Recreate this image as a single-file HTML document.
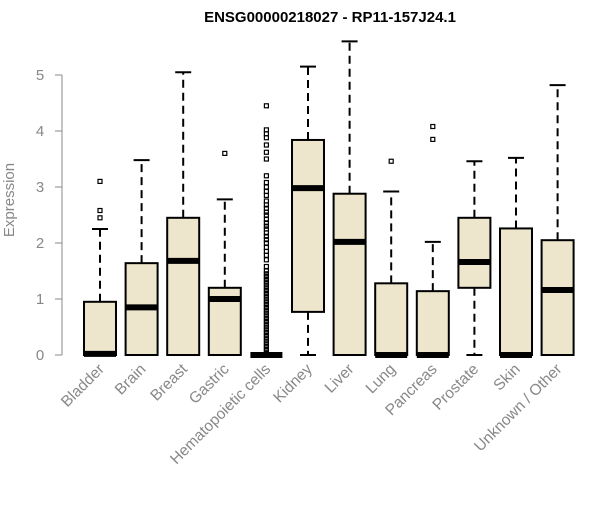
<!DOCTYPE html>
<html><head><meta charset="utf-8"><style>
body{margin:0;background:#fff;}
svg{font-family:"Liberation Sans",Arial,sans-serif;}
</style></head><body>
<svg id="chart" width="600" height="500">
<text x="330" y="22" text-anchor="middle" font-weight="bold" font-size="15">ENSG00000218027 - RP11-157J24.1</text>
<text transform="translate(14,200) rotate(-90)" text-anchor="middle" font-size="15" fill="#888">Expression</text>
<g id="yaxis"></g>
<g id="boxes"></g>
<g id="xlabels"></g>
</svg>
<script>
const categories=["Bladder","Brain","Breast","Gastric","Hematopoietic cells","Kidney","Liver","Lung","Pancreas","Prostate","Skin","Unknown / Other"];
const q1=[0,0,0,0,0,0.77,0,0,0,1.2,0,0];
const medians=[0.02,0.85,1.68,1.0,0,2.98,2.02,0,0,1.66,0,1.16];
const q3=[0.95,1.64,2.45,1.2,0,3.84,2.88,1.28,1.14,2.45,2.26,2.05];
const whiskLo=[0,0,0,0,0,0,0,0,0,0,0,0];
const whiskHi=[2.25,3.48,5.05,2.78,0,5.15,5.6,2.92,2.02,3.46,3.52,4.82];
const outliers=[[2.45,2.58,3.1],[],[],[3.6],
[0.05,0.1,0.15,0.2,0.25,0.3,0.35,0.4,0.45,0.5,0.55,0.6,0.65,0.7,0.75,0.8,0.85,0.9,0.95,1.0,1.05,1.1,1.15,1.2,1.25,1.3,1.35,1.4,1.45,1.5,1.58,1.7,1.78,1.85,1.92,2.0,2.06,2.12,2.18,2.25,2.3,2.36,2.42,2.5,2.55,2.62,2.68,2.75,2.85,2.92,3.0,3.08,3.2,3.5,3.62,3.75,3.88,3.95,4.02,4.45],
[],[],[3.46],[3.85,4.08],[],[],[]];
const yTicks=[0,1,2,3,4,5];
const NS="http://www.w3.org/2000/svg";
const y=v=>355-v*56;
const x=i=>100+i*41.6;
const hw=16;
function mk(t,a,p){const e=document.createElementNS(NS,t);for(const k in a)e.setAttribute(k,a[k]);p.appendChild(e);return e;}
const ya=document.getElementById('yaxis');
mk('line',{x1:62,x2:62,y1:y(0),y2:y(5),stroke:'#888'},ya);
yTicks.forEach(t=>{
 const l=mk('line',{x1:55,x2:62,y1:y(t),y2:y(t),stroke:'#888'},ya);
 
 
 const tx=mk('text',{x:40,y:y(t)+5,'text-anchor':'middle','font-size':15,fill:'#888'},ya);
 tx.textContent=t;
 
 
});
const bx=document.getElementById('boxes');
const xl=document.getElementById('xlabels');
categories.forEach((c,i)=>{
 const g=mk('g',{},bx);
 
 
 const cx=x(i);
 mk('line',{x1:cx,x2:cx,y1:y(q3[i]),y2:y(whiskHi[i]),stroke:'#000','stroke-width':2,'stroke-dasharray':'8,5'},g);
 mk('line',{x1:cx,x2:cx,y1:y(q1[i]),y2:y(whiskLo[i]),stroke:'#000','stroke-width':2,'stroke-dasharray':'8,5'},g);
 mk('line',{x1:cx-8,x2:cx+8,y1:y(whiskHi[i]),y2:y(whiskHi[i]),stroke:'#000','stroke-width':2},g);
 mk('line',{x1:cx-8,x2:cx+8,y1:y(whiskLo[i]),y2:y(whiskLo[i]),stroke:'#000','stroke-width':2},g);
 mk('rect',{x:cx-hw,y:y(q3[i]),width:hw*2,height:Math.max(0,y(q1[i])-y(q3[i])),fill:'#ede6cc',stroke:'#000','stroke-width':2},g);
 mk('line',{x1:cx-hw,x2:cx+hw,y1:y(medians[i]),y2:y(medians[i]),stroke:'#000','stroke-width':6},g);
 outliers[i].forEach(v=>{
  const p=mk('rect',{x:cx-2,y:y(v)-2,width:4,height:4,fill:'none',stroke:'#000','stroke-width':1.2},g);
  
  
 });
 const t=mk('text',{transform:`translate(${cx+5},${370}) rotate(-45)`,'text-anchor':'end','font-size':15.5,fill:'#888'},xl);
 t.textContent=c;
 
 
});
</script>
</body></html>
